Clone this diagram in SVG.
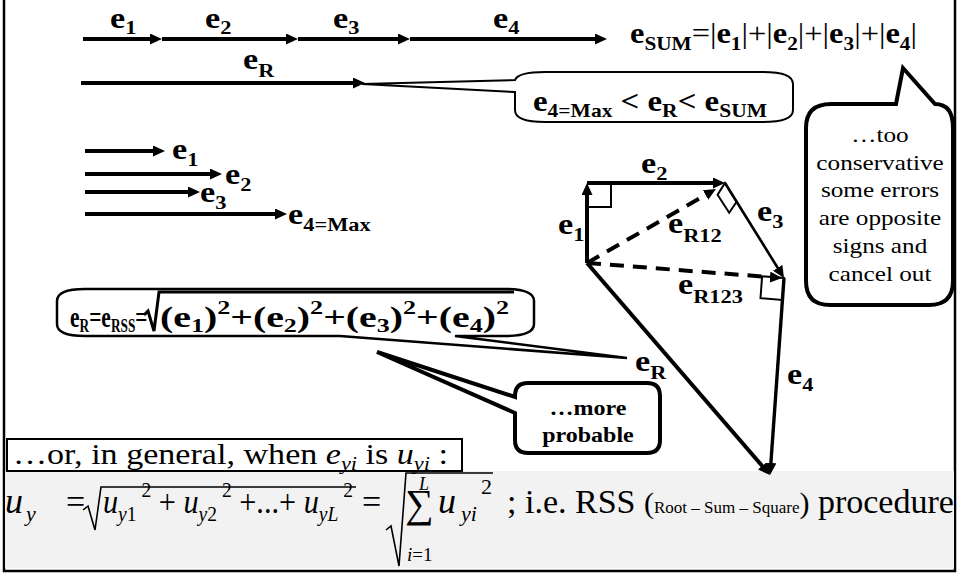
<svg xmlns="http://www.w3.org/2000/svg" width="958" height="574" viewBox="0 0 958 574">
<defs>
<marker id="ah" markerUnits="userSpaceOnUse" markerWidth="12" markerHeight="11" refX="4" refY="5.5" orient="auto" viewBox="0 0 12 11"><path d="M0,0 L12,5.5 L0,11 z" fill="#000"/></marker>
<style>
.t{font-family:"Liberation Serif","Times New Roman",serif;fill:#000}
.b{font-weight:bold}
.n{font-weight:normal}
.L{font-family:"Liberation Serif","Times New Roman",serif;font-weight:bold;font-size:29px;fill:#000}
.S{font-size:19px}
.it{font-style:italic}
.ar{stroke:#000;stroke-width:4;fill:none;marker-end:url(#ah)}
.ds{stroke-dasharray:14 9}
.co{fill:#fff;stroke:#000}
.sq{fill:none;stroke:#000;stroke-width:2}
.rad{fill:none;stroke:#000;stroke-width:1.6}
</style>
</defs>
<rect x="4" y="-2" width="951" height="573" fill="#fff" stroke="#000" stroke-width="2.5"/>
<rect x="5" y="471" width="949" height="97" fill="#f2f2f2"/>

<g id="connectors">
<line class="ar" x1="83" y1="39" x2="154" y2="39"/>
<line class="ar" x1="162" y1="39" x2="290" y2="39"/>
<line class="ar" x1="298" y1="39" x2="402" y2="39"/>
<line class="ar" x1="410" y1="39" x2="599" y2="39"/>
<line class="ar" x1="81" y1="83" x2="357" y2="83"/>
<line class="ar" x1="85" y1="151" x2="157" y2="151"/>
<line class="ar" x1="85" y1="174" x2="214" y2="174"/>
<line class="ar" x1="85" y1="192" x2="192" y2="192"/>
<line class="ar" x1="85" y1="214" x2="279" y2="214"/>
<line class="ar" x1="587" y1="263" x2="587" y2="191"/>
<line class="ar" x1="587" y1="183" x2="717" y2="183"/>
<line class="ar" x1="725" y1="183" x2="779.8" y2="271.2" style="stroke-width:2.6"/>
<line class="ar" x1="784" y1="278" x2="770.6" y2="467" style="stroke-width:3.4"/>
<line class="ar" x1="587" y1="263" x2="764.8" y2="469"/>
<line class="ar ds" x1="587" y1="263" x2="709" y2="193"/>
<line class="ar ds" x1="587" y1="263" x2="774" y2="277.4"/>
<polyline class="sq" points="588,184 611,184 611,207 588,207"/>
<polygon class="sq" points="725,183 736.6,201.7 729.2,212.7 717.6,194.7"/>
<polygon class="sq" points="784,278 782.4,299.9 760.5,298.2 762.1,276.3"/>
</g>

<g id="labels-top">
<text class="L" transform="translate(110,28) scale(1.18,1)">e<tspan class="S" dy="6">1</tspan></text>
<text class="L" transform="translate(205,28) scale(1.18,1)">e<tspan class="S" dy="6">2</tspan></text>
<text class="L" transform="translate(333,28) scale(1.18,1)">e<tspan class="S" dy="6">3</tspan></text>
<text class="L" transform="translate(493,28) scale(1.18,1)">e<tspan class="S" dy="6">4</tspan></text>
<text class="L" transform="translate(243,69) scale(1.18,1)">e<tspan class="S" dy="8">R</tspan></text>
<text class="L" x="630" y="43" textLength="287" lengthAdjust="spacingAndGlyphs">e<tspan class="S" dy="7">SUM</tspan><tspan class="n" dy="-7">=|</tspan>e<tspan class="S" dy="7">1</tspan><tspan class="n" dy="-7">|+|</tspan>e<tspan class="S" dy="7">2</tspan><tspan class="n" dy="-7">|+|</tspan>e<tspan class="S" dy="7">3</tspan><tspan class="n" dy="-7">|+|</tspan>e<tspan class="S" dy="7">4</tspan><tspan class="n" dy="-7">|</tspan></text>
</g>

<g id="callout-range">
<path class="co" stroke-width="2" d="M545,72 H763 Q793,72 793,84 V110 Q793,122 763,122 H545 Q515,122 515,110 V92 L362,84 L515,80 Q518,72 545,72 Z"/>
<text class="L" x="533" y="111" textLength="234" lengthAdjust="spacingAndGlyphs">e<tspan class="S" dy="6">4=Max</tspan><tspan dy="-6"> &lt; e</tspan><tspan class="S" dy="6">R</tspan><tspan dy="-6">&lt; e</tspan><tspan class="S" dy="6">SUM</tspan></text>
</g>

<g id="callout-conservative">
<path class="co" stroke-width="4" d="M831,104 L896,104 L903,68 L935,104 Q953,104 953,128 V281 Q953,305 929,305 H830 Q806,305 806,281 V128 Q806,104 831,104 Z"/>
<g class="t" font-size="21" text-anchor="middle">
<text transform="translate(880,142) scale(1.2,1)">…too</text>
<text transform="translate(880,170) scale(1.2,1)">conservative</text>
<text transform="translate(880,197) scale(1.2,1)">some errors</text>
<text transform="translate(880,225) scale(1.2,1)">are opposite</text>
<text transform="translate(880,253) scale(1.2,1)">signs and</text>
<text transform="translate(880,281) scale(1.2,1)">cancel out</text>
</g>
</g>

<g id="labels-mid">
<text class="L" transform="translate(172,159) scale(1.18,1)">e<tspan class="S" dy="7">1</tspan></text>
<text class="L" transform="translate(225,184) scale(1.18,1)">e<tspan class="S" dy="7">2</tspan></text>
<text class="L" transform="translate(200,202) scale(1.18,1)">e<tspan class="S" dy="7">3</tspan></text>
<text class="L" transform="translate(288,224) scale(1.18,1)">e<tspan class="S" dy="7">4=Max</tspan></text>
</g>

<g id="callout-rss">
<path class="co" stroke-width="2.5" d="M85,289 H505 Q534,289 534,301 V324 Q534,336 505,336 H455 L627,358 L340,336 H85 Q57,336 57,324 V301 Q57,289 85,289 Z"/>
<text class="L" font-size="28" transform="translate(70,327) scale(0.74,1)">e<tspan font-size="18" dy="5">R</tspan><tspan dy="-5">=e</tspan><tspan font-size="18" dy="5">RSS</tspan><tspan dy="-5">=</tspan></text>
<path d="M144,315 L148,311 L154,331 L159,292 H514" fill="none" stroke="#000" stroke-width="3"/>
<text class="L" x="160" y="327" font-size="28" textLength="349" lengthAdjust="spacingAndGlyphs">(e<tspan class="S" dy="5">1</tspan><tspan dy="-5">)</tspan><tspan class="S" dy="-13">2</tspan><tspan dy="13">+(e</tspan><tspan class="S" dy="5">2</tspan><tspan dy="-5">)</tspan><tspan class="S" dy="-13">2</tspan><tspan dy="13">+(e</tspan><tspan class="S" dy="5">3</tspan><tspan dy="-5">)</tspan><tspan class="S" dy="-13">2</tspan><tspan dy="13">+(e</tspan><tspan class="S" dy="5">4</tspan><tspan dy="-5">)</tspan><tspan class="S" dy="-13">2</tspan></text>
</g>

<g id="callout-probable">
<path class="co" stroke-width="4" d="M528,383 H647 Q660,383 660,396 V440 Q660,453 647,453 H528 Q515,453 515,440 V413 L377,352 L515,397 V396 Q515,383 528,383 Z"/>
<g class="t b" font-size="20" text-anchor="middle">
<text transform="translate(588,415) scale(1.2,1)">…more</text>
<text transform="translate(588,442) scale(1.2,1)">probable</text>
</g>
</g>

<g id="labels-vector">
<text class="L" transform="translate(641,173) scale(1.18,1)">e<tspan class="S" dy="7">2</tspan></text>
<text class="L" transform="translate(558,234) scale(1.18,1)">e<tspan class="S" dy="7">1</tspan></text>
<text class="L" transform="translate(757,221) scale(1.18,1)">e<tspan class="S" dy="7">3</tspan></text>
<text class="L" transform="translate(668,233) scale(1.18,1)">e<tspan class="S" dy="9">R12</tspan></text>
<text class="L" transform="translate(678,294) scale(1.18,1)">e<tspan class="S" dy="9">R123</tspan></text>
<text class="L" transform="translate(635,371) scale(1.18,1)">e<tspan class="S" dy="8">R</tspan></text>
<text class="L" transform="translate(787,384) scale(1.18,1)">e<tspan class="S" dy="7">4</tspan></text>
</g>

<g id="general-box">
<rect x="7" y="439" width="455" height="32" fill="#fff" stroke="#000" stroke-width="2"/>
<text class="t" x="13" y="464" font-size="29" textLength="435" lengthAdjust="spacingAndGlyphs">…or, in general, when <tspan class="it">e</tspan><tspan class="it" font-size="19" dy="6">yi</tspan><tspan dy="-6"> is </tspan><tspan class="it">u</tspan><tspan class="it" font-size="19" dy="6">yi</tspan><tspan dy="-6"> :</tspan></text>
</g>

<g id="formula">
<text class="t it" x="5" y="513" font-size="36">u</text>
<text class="t it" x="26" y="521" font-size="22">y</text>
<text class="t" x="66" y="513" font-size="34">=</text>
<path class="rad" d="M83,510 L88,506 L95,530 L101,487 H356"/>
<text class="t" x="103" y="513" font-size="34" textLength="250" lengthAdjust="spacingAndGlyphs"><tspan class="it">u</tspan><tspan class="it" font-size="22" dy="8">y</tspan><tspan font-size="22">1</tspan><tspan font-size="22" dy="-24"> 2</tspan><tspan dy="16"> + </tspan><tspan class="it">u</tspan><tspan class="it" font-size="22" dy="8">y</tspan><tspan font-size="22">2</tspan><tspan font-size="22" dy="-24"> 2</tspan><tspan dy="16"> +...+ </tspan><tspan class="it">u</tspan><tspan class="it" font-size="22" dy="8">yL</tspan><tspan font-size="22" dy="-24"> 2</tspan></text>
<text class="t" x="362" y="513" font-size="34">=</text>
<path class="rad" d="M386,530 L391,526 L399,566 L406,473 H493"/>
<text class="t" x="405" y="517" font-size="40">∑</text>
<text class="t it" x="419" y="490" font-size="18">L</text>
<text class="t" x="407" y="561" font-size="19"><tspan class="it">i</tspan>=1</text>
<text class="t it" x="438" y="513" font-size="36">u</text>
<text class="t it" x="461" y="521" font-size="22">yi</text>
<text class="t" x="481" y="494" font-size="22">2</text>
<text class="t" x="507" y="513" font-size="34">; i.e. RSS <tspan font-size="30">(</tspan><tspan font-size="17">Root – Sum – Square</tspan><tspan font-size="30">)</tspan> procedure</text>
</g>
</svg>
